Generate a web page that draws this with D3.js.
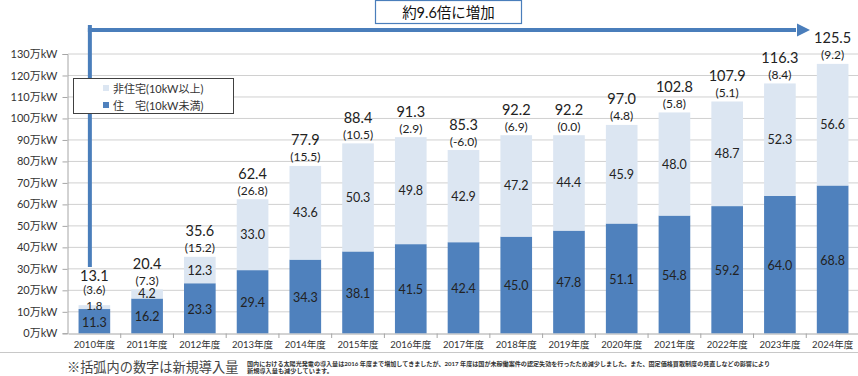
<!DOCTYPE html>
<html><head><meta charset="utf-8">
<script src="https://cdn.jsdelivr.net/npm/d3@7"></script>
<style>
html,body{margin:0;padding:0;background:#fff;}
svg{display:block;}
text{font-family:"Lato","Noto Sans CJK JP",sans-serif;fill:#222;}
</style></head>
<body>
<svg id="c" width="858" height="376"></svg>
<script>
const years = ["2010年度","2011年度","2012年度","2013年度","2014年度","2015年度","2016年度","2017年度","2018年度","2019年度","2020年度","2021年度","2022年度","2023年度","2024年度"];
const residential = [11.3,16.2,23.3,29.4,34.3,38.1,41.5,42.4,45.0,47.8,51.1,54.8,59.2,64.0,68.8];
const nonResidential = [1.8,4.2,12.3,33.0,43.6,50.3,49.8,42.9,47.2,44.4,45.9,48.0,48.7,52.3,56.6];
const totals = [13.1,20.4,35.6,62.4,77.9,88.4,91.3,85.3,92.2,92.2,97.0,102.8,107.9,116.3,125.5];
const newAdded = ["3.6","7.3","15.2","26.8","15.5","10.5","2.9","-6.0","6.9","0.0","4.8","5.8","5.1","8.4","9.2"];
const yTicks = [0,10,20,30,40,50,60,70,80,90,100,110,120,130];
const seriesNames = ["非住宅(10kW以上)","住　宅(10kW未満)"];
const headline = "約9.6倍に増加";
const noteMain = "※括弧内の数字は新規導入量";
const noteSmall1 = "国内における太陽光発電の導入量は2016 年度まで増加してきましたが、2017 年度は国が未稼働案件の認定失効を行ったため減少しました。また、固定価格買取制度の見直しなどの影響により";
const noteSmall2 = "新規導入量も減少しています。";

const C_DARK = "#4F81BD", C_LIGHT = "#DCE6F2", C_ARROW = "#4A7EBB";
const svg = d3.select("#c");
const x = d3.scaleBand().domain(years).range([68, 859]).paddingInner(0.4).paddingOuter(0.2);
const y = d3.scaleLinear().domain([0,130]).range([333.3, 54]);

// gridlines
svg.append("g").selectAll("line").data(yTicks.filter(d=>d>0)).join("line")
  .attr("x1",68).attr("x2",858).attr("y1",d=>y(d)).attr("y2",d=>y(d))
  .attr("stroke","#d0d0d0").attr("stroke-width",1);

// y axis
const ya = svg.append("g").attr("transform","translate(67.5,0)")
  .call(d3.axisLeft(y).tickValues(yTicks).tickFormat(d=>d+"万kW").tickSize(5).tickPadding(5));
ya.select(".domain").attr("stroke","#a6a6a6");
ya.selectAll(".tick line").attr("stroke","#a6a6a6");
ya.selectAll("text").attr("font-size",11).style("fill","#333");

// x axis
const xa = svg.append("g").attr("transform","translate(0,333.5)")
  .call(d3.axisBottom(x).tickSize(0).tickPadding(8));
xa.select(".domain").attr("stroke","#a6a6a6");
xa.selectAll("text").attr("font-size",9.5).style("fill","#333");
const step = x.step();
svg.append("g").selectAll("line").data(years).join("line")
  .attr("x1",d=>x(d)+x.bandwidth()/2+step/2).attr("x2",d=>x(d)+x.bandwidth()/2+step/2)
  .attr("y1",333.5).attr("y2",338).attr("stroke","#a6a6a6");

// bars
const bars = svg.append("g");
bars.selectAll("rect.r").data(years).join("rect").attr("class","r")
  .attr("x",d=>x(d)).attr("width",x.bandwidth())
  .attr("y",(d,i)=>y(residential[i])).attr("height",(d,i)=>y(0)-y(residential[i]))
  .attr("fill",C_DARK);
bars.selectAll("rect.n").data(years).join("rect").attr("class","n")
  .attr("x",d=>x(d)).attr("width",x.bandwidth())
  .attr("y",(d,i)=>y(residential[i]+nonResidential[i])).attr("height",(d,i)=>y(residential[i])-y(residential[i]+nonResidential[i]))
  .attr("fill",C_LIGHT);

// labels
const lab = svg.append("g").attr("text-anchor","middle").attr("dominant-baseline","central");
const cx = d=>x(d)+x.bandwidth()/2;
lab.selectAll("text.rv").data(years).join("text").attr("class","rv")
  .attr("x",cx).attr("y",(d,i)=>(y(0)+y(residential[i]))/2+1)
  .attr("font-size",12.5).text((d,i)=>residential[i].toFixed(1));
lab.selectAll("text.nv").data(years).join("text").attr("class","nv")
  .attr("x",cx).attr("y",(d,i)=>{const m=(y(residential[i])+y(residential[i]+nonResidential[i]))/2; return i===0? m-2 : m;})
  .attr("font-size",(d,i)=>i===0?11.5:12.5).text((d,i)=>nonResidential[i].toFixed(1));
lab.selectAll("text.pv").data(years).join("text").attr("class","pv")
  .attr("x",cx).attr("y",(d,i)=>y(totals[i])-(i===0?16:9))
  .attr("font-size",(d,i)=>i===0?11.5:12).text((d,i)=>"("+newAdded[i]+")");
lab.selectAll("text.tv").data(years).join("text").attr("class","tv")
  .attr("x",cx).attr("y",(d,i)=>y(totals[i])-(i===0?30:26))
  .attr("font-size",14.5).text((d,i)=>totals[i].toFixed(1));

// arrow
const ax0 = cx(years[0]) - 4.5;
svg.append("rect").attr("x",ax0-2).attr("y",25).attr("width",4).attr("height",242).attr("fill",C_ARROW);
svg.append("rect").attr("x",ax0-2).attr("y",28).attr("width",798-ax0).attr("height",4).attr("fill",C_ARROW);
svg.append("path").attr("d","M797,23.5 L810,30 L797,36.5 Z").attr("fill",C_ARROW);

// headline box
svg.append("rect").attr("x",375.5).attr("y",0.5).attr("width",146).attr("height",23).attr("fill","#fff").attr("stroke",C_ARROW).attr("stroke-width",1.2);
svg.append("text").attr("x",448.5).attr("y",12.5).attr("text-anchor","middle").attr("dominant-baseline","central")
  .attr("font-size",14.5).style("fill","#111").text(headline);

// legend
const lg = svg.append("g");
lg.append("rect").attr("x",73.5).attr("y",78.5).attr("width",160).attr("height",35).attr("fill","#fff").attr("stroke","#404040").attr("stroke-width",1);
[C_LIGHT,C_DARK].forEach((c,i)=>{
  lg.append("rect").attr("x",103).attr("y",85+i*17).attr("width",6).attr("height",6).attr("fill",c);
  lg.append("text").attr("x",113).attr("y",88+i*17).attr("dominant-baseline","central").attr("font-size",11).style("fill","#333").text(seriesNames[i]);
});

// bottom line and notes
svg.append("line").attr("x1",0).attr("x2",858).attr("y1",352.5).attr("y2",352.5).attr("stroke","#c8c8c8");
svg.append("text").attr("x",67).attr("y",367).attr("dominant-baseline","central").attr("font-size",13.2).style("fill","#444").text(noteMain);
svg.append("text").attr("x",247).attr("y",363).attr("dominant-baseline","central").attr("font-size",6.2).attr("font-weight","bold")
  .attr("textLength",523).attr("lengthAdjust","spacingAndGlyphs").style("fill","#333").text(noteSmall1);
svg.append("text").attr("x",247).attr("y",370.5).attr("dominant-baseline","central").attr("font-size",6.2).attr("font-weight","bold")
  .style("fill","#333").text(noteSmall2);
</script>
</body></html>
